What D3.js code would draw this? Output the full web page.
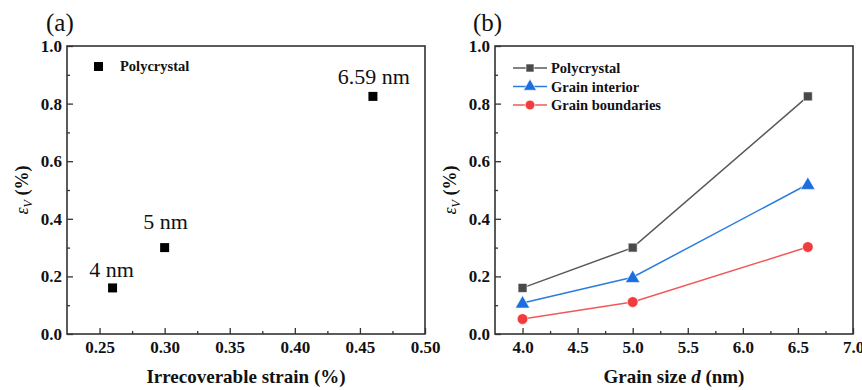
<!DOCTYPE html>
<html><head><meta charset="utf-8">
<script src="https://cdn.jsdelivr.net/npm/d3@7"></script>
<style>body{margin:0;background:#fff}svg{display:block}text{font-family:"Liberation Serif","Times New Roman",serif}</style>
</head><body><svg id="c" width="862" height="390"></svg>
<script>
// Panel (a)
const aStrain = [0.26, 0.30, 0.46];
const aEv = [0.16, 0.30, 0.825];
const aLabels = ["4 nm", "5 nm", "6.59 nm"];
const aXTicks = [0.25, 0.30, 0.35, 0.40, 0.45, 0.50];
// Panel (b)
const grainSize = [4.0, 5.0, 6.59];
const polycrystal = [0.16, 0.30, 0.825];
const grainInterior = [0.108, 0.197, 0.52];
const grainBoundaries = [0.052, 0.111, 0.302];
const bXTicks = [4.0, 4.5, 5.0, 5.5, 6.0, 6.5, 7.0];
const yTicks = [0.0, 0.2, 0.4, 0.6, 0.8, 1.0];
const seriesNames = ["Polycrystal", "Grain interior", "Grain boundaries"];

const svg = d3.select("#c");
const plotTop = 46, plotBottom = 334;
const SERIF = "'Liberation Serif','Times New Roman',serif";

function frame(g, x, y, xTicks, xMinor, xFmt, xTitle, yTitleX) {
  const [x0, x1] = x.range();
  const yMinor = [0.1, 0.3, 0.5, 0.7, 0.9];
  g.append("g").attr("transform", `translate(${x0},0)`)
    .call(d3.axisLeft(y).tickValues(yTicks).tickFormat(d3.format(".1f")).tickSizeInner(-6).tickSizeOuter(0).tickPadding(5));
  g.append("g").attr("transform", `translate(${x0},0)`)
    .call(d3.axisLeft(y).tickValues(yMinor).tickFormat("").tickSizeInner(-3).tickSizeOuter(0));
  g.append("g").attr("transform", `translate(0,${plotBottom})`)
    .call(d3.axisBottom(x).tickValues(xTicks).tickFormat(d3.format(xFmt)).tickSizeInner(-6).tickSizeOuter(0).tickPadding(7));
  g.append("g").attr("transform", `translate(0,${plotBottom})`)
    .call(d3.axisBottom(x).tickValues(xMinor).tickFormat("").tickSizeInner(-3).tickSizeOuter(0));
  g.selectAll(".domain").remove();
  g.selectAll("g").attr("font-family", SERIF);
  g.selectAll(".tick line").attr("stroke", "#333").attr("stroke-width", 1.3);
  g.selectAll(".tick text").attr("font-family", SERIF).attr("font-weight", "bold")
    .attr("font-size", 17).attr("fill", "#111");
  g.append("rect").attr("x", x0).attr("y", plotTop).attr("width", x1 - x0).attr("height", plotBottom - plotTop)
    .attr("fill", "none").attr("stroke", "#333").attr("stroke-width", 1.6);
  if (xTitle) g.append("text").attr("x", (x0 + x1) / 2).attr("y", 383).attr("text-anchor", "middle")
    .attr("font-weight", "bold").attr("font-size", 19).attr("fill", "#111").text(xTitle);
  const yl = g.append("text").attr("transform", `translate(${yTitleX},190) rotate(-90)`)
    .attr("text-anchor", "middle").attr("font-size", 18).attr("fill", "#111");
  yl.append("tspan").attr("font-style", "italic").text("ε");
  yl.append("tspan").attr("font-style", "italic").attr("font-size", 12).attr("dy", 4).text("V");
  yl.append("tspan").attr("font-weight", "bold").attr("dy", -4).text(" (%)");
}

// ----- Panel (a)
const xa = d3.scaleLinear().domain([0.225, 0.50]).range([67, 425]);
const ya = d3.scaleLinear().domain([0, 1]).range([plotBottom, plotTop]);
const ga = svg.append("g");
frame(ga, xa, ya, aXTicks, [0.275, 0.325, 0.375, 0.425, 0.475], ".2f", "Irrecoverable strain (%)", 28);
ga.selectAll("rect.pt").data(aStrain).join("rect").attr("class", "pt")
  .attr("x", (d) => xa(d) - 4.5).attr("y", (d, i) => ya(aEv[i]) - 4.5)
  .attr("width", 9).attr("height", 9).attr("fill", "#000");
const aLabOff = [[-1, -11], [1, -19], [1, -12]];
ga.selectAll("text.lab").data(aLabels).join("text").attr("class", "lab")
  .attr("x", (d, i) => xa(aStrain[i]) + aLabOff[i][0]).attr("y", (d, i) => ya(aEv[i]) + aLabOff[i][1])
  .attr("text-anchor", "middle").attr("font-size", 22).attr("fill", "#111").text((d) => d);
ga.append("rect").attr("x", 94).attr("y", 62).attr("width", 9).attr("height", 9).attr("fill", "#000");
ga.append("text").attr("x", 120).attr("y", 71).attr("font-weight", "bold").attr("font-size", 14.5).attr("fill", "#111").text("Polycrystal");
ga.append("text").attr("x", 46).attr("y", 31).attr("font-size", 25).attr("fill", "#111").text("(a)");

// ----- Panel (b)
const xb = d3.scaleLinear().domain([3.75, 7.0]).range([495, 853]);
const yb = ya;
const gb = svg.append("g");
frame(gb, xb, yb, bXTicks, [4.25, 4.75, 5.25, 5.75, 6.25, 6.75], ".1f", "", 456);
const xt = gb.append("text").attr("x", 674).attr("y", 383).attr("text-anchor", "middle")
  .attr("font-weight", "bold").attr("font-size", 19).attr("fill", "#111");
xt.append("tspan").text("Grain size ");
xt.append("tspan").attr("font-style", "italic").text("d");
xt.append("tspan").text(" (nm)");
gb.append("text").attr("x", 473).attr("y", 31).attr("font-size", 25).attr("fill", "#111").text("(b)");

const series = [
  {name: seriesNames[0], vals: polycrystal, color: "#595959", fill: "#4a4a4a", sym: d3.symbolSquare, size: 80},
  {name: seriesNames[1], vals: grainInterior, color: "#2b7ce0", fill: "#1a6ee0", sym: d3.symbolTriangle, size: 90},
  {name: seriesNames[2], vals: grainBoundaries, color: "#f25858", fill: "#f03c3c", sym: d3.symbolCircle, size: 90}
];
const line = d3.line().x((d, i) => xb(grainSize[i])).y((d) => yb(d));
series.forEach((s, k) => {
  gb.append("path").attr("d", line(s.vals)).attr("fill", "none").attr("stroke", s.color).attr("stroke-width", 1.5);
  gb.selectAll(null).data(s.vals).join("path")
    .attr("transform", (d, i) => `translate(${xb(grainSize[i])},${yb(d) + (s.sym === d3.symbolTriangle ? 1 : 0)})`)
    .attr("d", d3.symbol().type(s.sym).size(s.size)).attr("fill", s.fill).attr("stroke", "#fff").attr("stroke-width", 0.6);
  const ly = 68 + k * 18.5;
  gb.append("line").attr("x1", 513).attr("x2", 547).attr("y1", ly).attr("y2", ly).attr("stroke", s.color).attr("stroke-width", 1.5);
  gb.append("path").attr("transform", `translate(530,${ly})`).attr("d", d3.symbol().type(s.sym).size(s.size * 0.8))
    .attr("fill", s.fill).attr("stroke", "#fff").attr("stroke-width", 0.6);
  gb.append("text").attr("x", 551).attr("y", ly + 5).attr("font-weight", "bold").attr("font-size", 14.5).attr("fill", "#111").text(s.name);
});
</script></body></html>
